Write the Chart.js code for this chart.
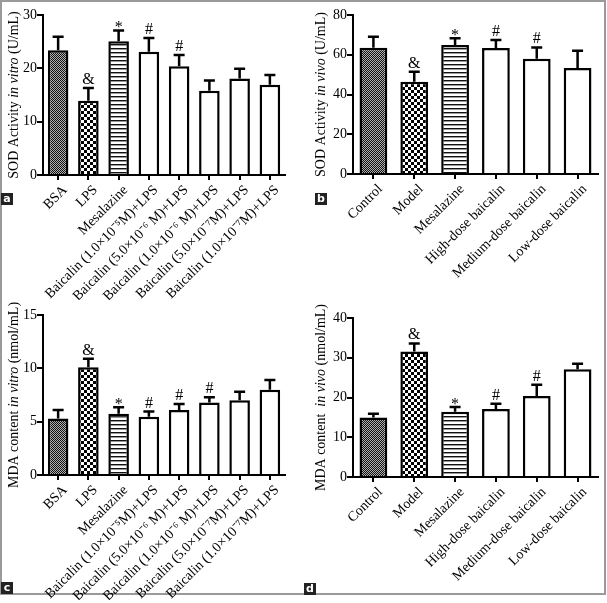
<!DOCTYPE html>
<html>
<head>
<meta charset="utf-8">
<script src="https://cdn.jsdelivr.net/npm/chart.js@4.4.1/dist/chart.umd.min.js"></script>
<style>
  body { margin: 0; background: #fff; width: 607px; height: 603px; position: relative; overflow: hidden; }
  .frame { position: absolute; left: 0; top: 0; width: 602px; height: 591px; border: 2px solid #9a9a9a; }
  .panel { position: absolute; }
  .tag { position: absolute; width: 12px; height: 12px; background: #222; color: #fff;
         font: bold 11px "DejaVu Sans", sans-serif; line-height: 11px; text-align: center; }
</style>
</head>
<body>
<div class="frame"></div>
<div class="panel" style="left:0;top:0;width:303px;height:300px"><canvas id="chartA"></canvas></div>
<div class="panel" style="left:303px;top:0;width:304px;height:300px"><canvas id="chartB"></canvas></div>
<div class="panel" style="left:0;top:300px;width:303px;height:300px"><canvas id="chartC"></canvas></div>
<div class="panel" style="left:303px;top:300px;width:304px;height:300px"><canvas id="chartD"></canvas></div>
<div class="tag" style="left:1px;top:193px">a</div>
<div class="tag" style="left:315px;top:193px">b</div>
<div class="tag" style="left:1px;top:582px">c</div>
<div class="tag" style="left:304px;top:583px">d</div>
<script>
	// groups
	const labelsInVitro = [
		"BSA",
		"LPS",
		"Mesalazine",
		"Baicalin (1.0×10⁻⁵M)+LPS",
		"Baicalin (5.0×10⁻⁶ M)+LPS",
		"Baicalin (1.0×10⁻⁶ M)+LPS",
		"Baicalin (5.0×10⁻⁷M)+LPS",
		"Baicalin (1.0×10⁻⁷M)+LPS"
	];
	const labelsInVivo = [
		"Control",
		"Model",
		"Mesalazine",
		"High-dose baicalin",
		"Medium-dose baicalin",
		"Low-dose baicalin"
	];

	// values, SD (upper bar only) and significance marks
	const sodVitro      = [23.4, 13.9, 25.1, 23.1, 20.4, 15.8, 18.1, 16.9];
	const sodVitroErr   = [2.5, 2.4, 2.0, 2.6, 2.1, 1.9, 1.8, 1.85];
	const sodVitroMarks = ["", "&", "*", "#", "#", "", "", ""];

	const sodVivo      = [63.5, 46.4, 64.9, 63.4, 58.0, 53.3];
	const sodVivoErr   = [5.6, 5.1, 3.4, 4.0, 5.7, 8.7];
	const sodVivoMarks = ["", "&", "*", "#", "#", ""];

	const mdaVitro      = [5.3, 10.1, 5.75, 5.45, 6.1, 6.8, 7.0, 8.0];
	const mdaVitroErr   = [0.8, 0.8, 0.6, 0.5, 0.55, 0.5, 0.8, 0.9];
	const mdaVitroMarks = ["", "&", "*", "#", "#", "#", "", ""];

	const mdaVivo      = [15.0, 31.6, 16.4, 17.1, 20.4, 27.1];
	const mdaVivoErr   = [0.9, 2.0, 1.2, 1.3, 2.8, 1.4];
	const mdaVivoMarks = ["", "&", "*", "#", "#", ""];

	const serif = '"Liberation Serif", "Times New Roman", serif';
	Chart.defaults.font.family = serif;
	Chart.defaults.color = "#000";

	function makePattern(kind) {
		let c = document.createElement("canvas");
		let g = c.getContext("2d");
		if (kind === "dense") {
			c.width = 2; c.height = 2;
			g.fillStyle = "#b0b0b0"; g.fillRect(0, 0, 2, 2);
			g.fillStyle = "#111"; g.fillRect(0, 0, 1, 1); g.fillRect(1, 1, 1, 1);
		} else if (kind === "checker") {
			c.width = 6; c.height = 6;
			g.fillStyle = "#fff"; g.fillRect(0, 0, 6, 6);
			g.fillStyle = "#000"; g.fillRect(0, 0, 3, 3); g.fillRect(3, 3, 3, 3);
		} else {
			c.width = 4; c.height = 4;
			g.fillStyle = "#fff"; g.fillRect(0, 0, 4, 4);
			g.fillStyle = "#111"; g.fillRect(0, 0, 4, 1);
			g.fillStyle = "#999"; g.fillRect(0, 1, 4, 1);
		}
		return g.createPattern(c, "repeat");
	}

	function fills(n) {
		let list = [makePattern("dense"), makePattern("checker"), makePattern("stripes")];
		while (list.length < n) list.push("#fff");
		return list;
	}

	// rotated y title with an italic part
	const axisTitle = {
		id: "axisTitle",
		afterDraw(chart, args, opts) {
			let ctx = chart.ctx;
			let area = chart.chartArea;
			let size = 14;
			let widths = opts.parts.map(p => {
				ctx.font = (p.italic ? "italic " : "") + size + "px " + serif;
				return ctx.measureText(p.text).width;
			});
			let total = widths.reduce((a, b) => a + b, 0);
			ctx.save();
			ctx.translate(opts.x, (area.top + area.bottom) / 2);
			ctx.rotate(-Math.PI / 2);
			ctx.fillStyle = "#000";
			ctx.textBaseline = "middle";
			let x = -total / 2;
			opts.parts.forEach((p, i) => {
				ctx.font = (p.italic ? "italic " : "") + size + "px " + serif;
				ctx.fillText(p.text, x, 0);
				x += widths[i];
			});
			ctx.restore();
		}
	};

	// upper error bars and significance marks
	const errorMarks = {
		id: "errorMarks",
		afterDatasetsDraw(chart, args, opts) {
			let ctx = chart.ctx;
			let yScale = chart.scales.y;
			let meta = chart.getDatasetMeta(0);
			let values = chart.data.datasets[0].data;
			ctx.save();
			ctx.strokeStyle = "#000";
			ctx.lineWidth = 2.5;
			meta.data.forEach((bar, i) => {
				let top = yScale.getPixelForValue(values[i]);
				let cap = yScale.getPixelForValue(values[i] + opts.errors[i]);
				ctx.beginPath();
				ctx.moveTo(bar.x, top);
				ctx.lineTo(bar.x, cap);
				ctx.moveTo(bar.x - 5.5, cap);
				ctx.lineTo(bar.x + 5.5, cap);
				ctx.stroke();
				let mark = opts.marks[i];
				if (mark) {
					ctx.fillStyle = "#000";
					ctx.font = "16px " + serif;
					ctx.textAlign = "center";
					ctx.textBaseline = "alphabetic";
					ctx.fillText(mark, bar.x, mark === "*" ? cap + 2 : cap - 4);
				}
			});
			ctx.restore();
		}
	};

	function buildChart(id, labels, values, errors, marks, yMax, yStep, titleParts, pad, xHeight, yWidth, titleX) {
		let ctx = document.getElementById(id);
		return new Chart(ctx, {
			type: "bar",
			data: {
				labels: labels,
				datasets: [{
					data: values,
					backgroundColor: fills(values.length),
					borderColor: "#000",
					borderWidth: 2.5,
					borderSkipped: "bottom",
					barPercentage: 0.68,
					categoryPercentage: 1
				}]
			},
			options: {
				responsive: true,
				maintainAspectRatio: false,
				animation: false,
				layout: { padding: pad },
				plugins: {
					legend: { display: false },
					tooltip: { enabled: false },
					axisTitle: { parts: titleParts, x: titleX },
					errorMarks: { errors: errors, marks: marks }
				},
				scales: {
					x: {
						border: { color: "#000", width: 2 },
						grid: { drawOnChartArea: false, offset: false, color: "#000", lineWidth: 2, tickLength: 5 },
						ticks: { minRotation: 45, maxRotation: 45, autoSkip: false, padding: 2, labelOffset: 7, font: { size: 14 } },
						afterFit(scale) { scale.height = xHeight; }
					},
					y: {
						min: 0,
						max: yMax,
						border: { color: "#000", width: 2 },
						grid: { drawOnChartArea: false, color: "#000", lineWidth: 2, tickLength: 6 },
						ticks: { stepSize: yStep, padding: 0, font: { size: 14 } },
						afterFit(scale) { scale.width = yWidth; }
					}
				}
			},
			plugins: [axisTitle, errorMarks]
		});
	}

	buildChart("chartA", labelsInVitro, sodVitro, sodVitroErr, sodVitroMarks, 30, 10,
		[{ text: "SOD Activity " }, { text: "in vitro", italic: true }, { text: " (U/mL)" }],
		{ left: 0, right: 18, top: 15, bottom: 0 }, 125, 43, 14);

	buildChart("chartB", labelsInVivo, sodVivo, sodVivoErr, sodVivoMarks, 80, 20,
		[{ text: "SOD Activity " }, { text: "in vivo", italic: true }, { text: " (U/mL)" }],
		{ left: 0, right: 9, top: 15, bottom: 0 }, 126, 50, 18);

	buildChart("chartC", labelsInVitro, mdaVitro, mdaVitroErr, mdaVitroMarks, 15, 5,
		[{ text: "MDA content " }, { text: "in vitro", italic: true }, { text: " (nmol/mL)" }],
		{ left: 0, right: 18, top: 15, bottom: 0 }, 125, 43, 14);

	buildChart("chartD", labelsInVivo, mdaVivo, mdaVivoErr, mdaVivoMarks, 40, 10,
		[{ text: "MDA content  " }, { text: "in vivo", italic: true }, { text: " (nmol/mL)" }],
		{ left: 0, right: 9, top: 18, bottom: 0 }, 123, 50, 18);
</script>
</body>
</html>
